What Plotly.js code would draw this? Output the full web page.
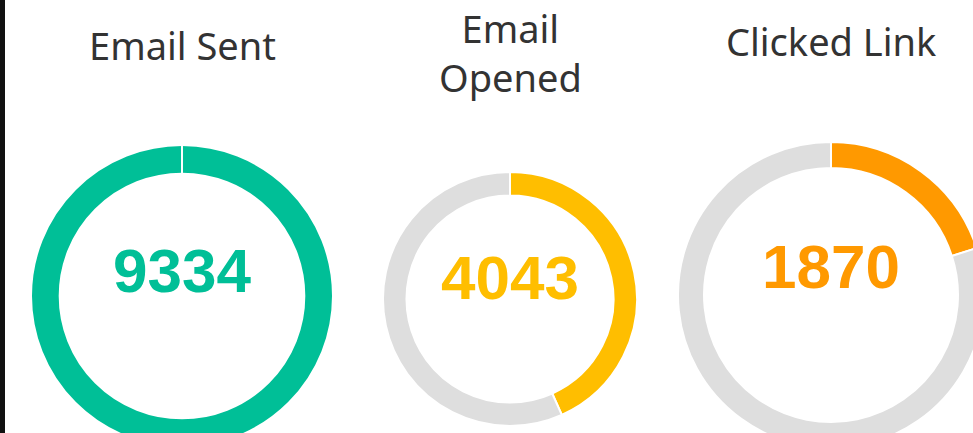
<!DOCTYPE html>
<html>
<head>
<meta charset="utf-8">
<script src="https://cdn.plot.ly/plotly-3.0.1.min.js"></script>
<style>
html,body{margin:0;padding:0;overflow:hidden;background:#fff;width:973px;height:433px;}
#chart{width:1000px;height:480px;}
</style>
</head>
<body>
<div id="chart"></div>
<script>
// ---- data ----
const titles = ["Email Sent", "Email<br>Opened", "Clicked Link"];
const counts = [9334, 4043, 1870];
const total = 9334;
const colors = ["#00BF97", "#FFBE00", "#FF9900"];
const restColor = "#DEDEDE";

// ---- layout geometry (pixels on a 1000x480 canvas) ----
const W = 1000, H = 480;
const centers = [[182, 296], [510, 299], [831, 295]];
const radii = [151, 127, 153];
const holes = [0.81, 0.815, 0.83];
const titleY = [45, 52, 41];
const numY = [270, 277, 266];

const px = x => x / W;
const py = y => 1 - y / H;

const traces = counts.map((c, i) => {
  const [cx, cy] = centers[i], r = radii[i];
  const rest = total - c;
  return {
    type: "pie",
    values: rest > 0 ? [c, rest] : [c],
    labels: rest > 0 ? ["value", "rest"] : ["value"],
    marker: {colors: rest > 0 ? [colors[i], restColor] : [colors[i]], line: {color: "#fff", width: 2}},
    hole: holes[i],
    sort: false,
    direction: "clockwise",
    rotation: 0,
    textinfo: "none",
    hoverinfo: "skip",
    showlegend: false,
    domain: {x: [px(cx - r), px(cx + r)], y: [py(cy + r), py(cy - r)]}
  };
});

const annotations = [];
counts.forEach((c, i) => {
  annotations.push({
    text: titles[i], x: px(centers[i][0]), y: py(titleY[i]), xref: "paper", yref: "paper",
    xanchor: "center", yanchor: "middle", showarrow: false,
    font: {family: "Noto Sans", size: 38, color: "#333333"}
  });
  annotations.push({
    text: String(c), x: px(centers[i][0]), y: py(numY[i]), xref: "paper", yref: "paper",
    xanchor: "center", yanchor: "middle", showarrow: false,
    font: {family: "Liberation Sans, Arial", size: 62, color: colors[i], weight: "bold"}
  });
});

// separator at the top of the full ring and black border on left
const shapes = [
  {type: "line", xref: "paper", yref: "paper",
   x0: px(centers[0][0]), x1: px(centers[0][0]),
   y0: py(centers[0][1] - radii[0] - 1), y1: py(centers[0][1] - radii[0] * holes[0] + 1),
   line: {color: "#fff", width: 2}},
  {type: "rect", xref: "paper", yref: "paper", x0: 0, x1: px(5), y0: 0, y1: 1,
   fillcolor: "#111", line: {width: 0}}
];

Plotly.newPlot("chart", traces, {
  width: W, height: H,
  margin: {l: 0, r: 0, t: 0, b: 0},
  paper_bgcolor: "#fff",
  annotations: annotations,
  shapes: shapes
}, {displayModeBar: false, staticPlot: true});
</script>
</body>
</html>
